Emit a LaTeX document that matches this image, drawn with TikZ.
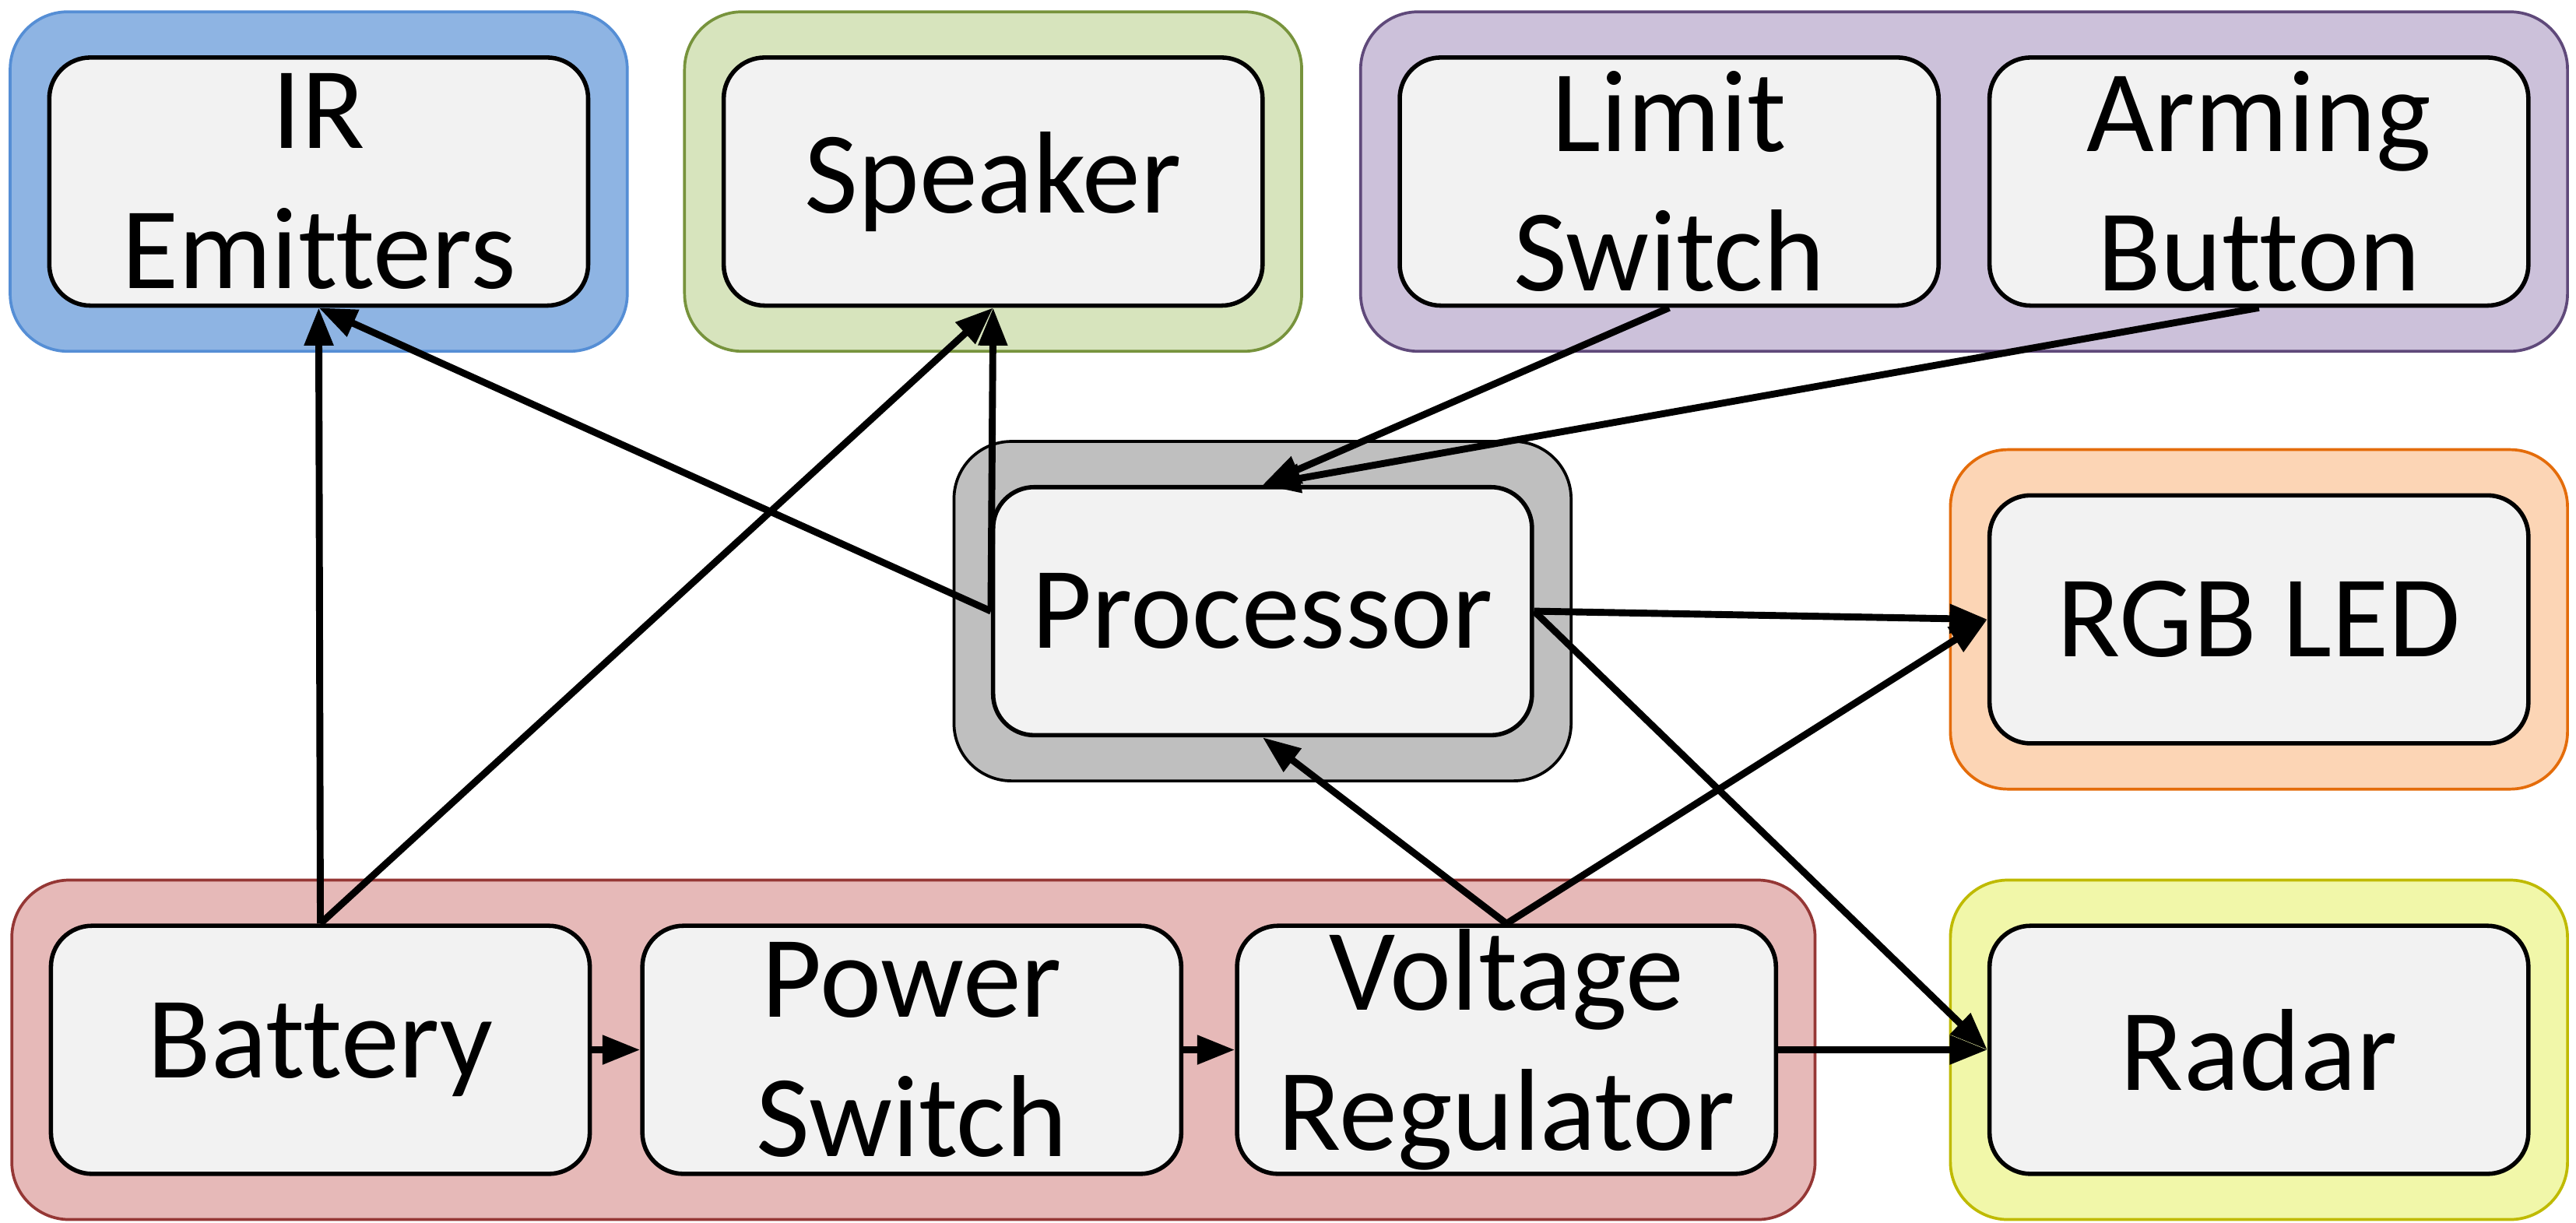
\documentclass[tikz,border=0pt]{standalone}
\usepackage{fontspec}
\setmainfont{Carlito}[Ligatures=NoCommon]
\usetikzlibrary{arrows.meta,calc,positioning,fit,backgrounds}
\definecolor{boxfill}{HTML}{F2F2F2}
\definecolor{irfill}{HTML}{8EB4E3}\definecolor{irline}{HTML}{558ED5}
\definecolor{spkfill}{HTML}{D7E4BD}\definecolor{spkline}{HTML}{77933C}
\definecolor{inpfill}{HTML}{CCC1DA}\definecolor{inpline}{HTML}{5F497A}
\definecolor{cpufill}{HTML}{BFBFBF}
\definecolor{ledfill}{HTML}{FCD5B5}\definecolor{ledline}{HTML}{E46C0A}
\definecolor{pwrfill}{HTML}{E6B9B8}\definecolor{pwrline}{HTML}{953735}
\definecolor{radfill}{HTML}{F1F7A9}\definecolor{radline}{HTML}{BFBA00}
\tikzset{
  blk/.style={draw,line width=1.5pt,rounded corners=0.5cm,fill=boxfill,
    minimum width=6.56cm,minimum height=3.02cm,align=center,inner sep=0pt},
  grp/.style={draw,line width=1pt,rounded corners=0.7cm,inner xsep=0.45cm,inner ysep=0.53cm},
  edge/.style={-{Triangle[length=0.46cm,width=0.34cm]},line width=2.4pt},
  every node/.style={font=\fontsize{40.4}{48.4}\selectfont}
}

\begin{document}
\begin{tikzpicture}
\useasboundingbox (0,0) rectangle (31.36,-14.88);
% top row
\node[blk] (ir) at (3.88,-2.21) {IR\\Emitters};
\node[blk] (spk) at (12.09,-2.21) {Speaker};
\node[blk] (lim) at (20.32,-2.21) {Limit\\Switch};
\node[blk] (arm) at (27.5,-2.21) {Arming\\Button};
% middle row
\node[blk] (proc) at (15.37,-7.44) {Processor};
\node[blk] (rgb) at (27.5,-7.54) {RGB LED};
% bottom row
\node[blk] (bat) at (3.9,-12.78) {Battery};
\node[blk] (pow) at (11.1,-12.78) {Power\\Switch};
\node[blk] (volt) at (18.34,-12.78) {Voltage\\Regulator};
\node[blk] (radar) at (27.5,-12.78) {Radar};
% groups
\begin{scope}[on background layer]
\node[grp,fill=irfill,draw=irline,fit=(ir)] (irgrp) {};
\node[grp,fill=spkfill,draw=spkline,fit=(spk)] (spkgrp) {};
\node[grp,fill=inpfill,draw=inpline,fit=(lim)(arm)] (inpgrp) {};
\node[grp,fill=cpufill,draw=black,fit=(proc)] (procgrp) {};
\node[grp,fill=ledfill,draw=ledline,fit=(rgb)] (rgbgrp) {};
\node[grp,fill=pwrfill,draw=pwrline,fit=(bat)(volt)] (pwrgrp) {};
\node[grp,fill=radfill,draw=radline,fit=(radar)] (radgrp) {};
\end{scope}
% power chain
\draw[edge] (bat) -- (pow);
\draw[edge] (pow) -- (volt);
\draw[edge] (volt) -- (radar.west);
\draw[edge] (bat.north) -- (ir.south);
\draw[edge] (bat.north) -- (spk.south);
\draw[edge] (volt.north) -- (proc.south);
\draw[edge] (volt.north) -- (rgb.west);
% processor links
\draw[edge] (proc.west) -- (ir.south);
\draw[edge] (proc.west) -- (spk.south);
\draw[edge] (lim.south) -- (proc.north);
\draw[edge] (arm.south) -- (proc.north);
\draw[edge] (proc.east) -- (rgb.west);
\draw[edge] (proc.east) -- (radar.west);
\end{tikzpicture}
\end{document}
